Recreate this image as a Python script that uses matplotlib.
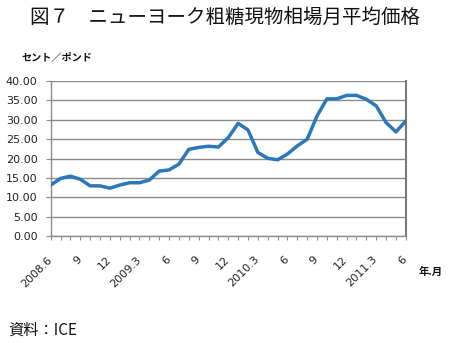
import matplotlib
matplotlib.use("Agg")
import matplotlib.pyplot as plt
import matplotlib.transforms as mtransforms

months = list(range(37))
prices = [13.2, 14.9, 15.5, 14.7, 13.0, 13.0, 12.4, 13.2, 13.8, 13.8, 14.5, 16.8,
          17.1, 18.6, 22.4, 22.9, 23.2, 23.0, 25.4, 29.1, 27.4, 21.6, 20.1, 19.7,
          21.2, 23.3, 25.0, 31.0, 35.4, 35.4, 36.3, 36.3, 35.3, 33.6, 29.3, 26.9, 29.7]
tick_labels = ["2008.6", "9", "12", "2009.3", "6", "9", "12",
               "2010.3", "6", "9", "12", "2011.3", "6"]
yticks = [0, 5, 10, 15, 20, 25, 30, 35, 40]

jp = ["Noto Sans CJK JP", "DejaVu Sans"]

fig = plt.figure(figsize=(4.51, 3.43), dpi=100)
ax = fig.add_axes([0.1124, 0.311, 0.7874, 0.4528])

ax.plot(months, prices, color="#2a78b8", linewidth=2.5, solid_joinstyle="round",
        solid_capstyle="round", zorder=3)

ax.set_xlim(0, 36)
ax.set_ylim(0, 40)
ax.set_yticks(yticks)
ax.set_yticklabels([f"{v:.2f}" for v in yticks], fontsize=8, color="#222222")
ax.yaxis.grid(True, color="#8c8c8c", linewidth=1.0)
ax.set_axisbelow(True)

ax.set_xticks(months)
labs = []
for m in months:
    labs.append(tick_labels[m // 3] if m % 3 == 0 else "")
ax.set_xticklabels(labs, rotation=45, ha="right", rotation_mode="anchor",
                   fontsize=8, color="#222222")
ax.tick_params(axis="x", length=3, width=0.8, color="#8c8c8c", pad=10)
ax.tick_params(axis="y", length=3.5, width=0.8, color="#8c8c8c", pad=6)
offset = mtransforms.ScaledTranslation(-4 / 100, 0, fig.dpi_scale_trans)
for lab in ax.get_xticklabels():
    lab.set_transform(lab.get_transform() + offset)

for side in ["left", "bottom", "right"]:
    ax.spines[side].set_color("#8c8c8c")
    ax.spines[side].set_linewidth(1.0)
ax.spines["right"].set_linewidth(1.5)
ax.spines["right"].set_color("#7a7a7a")
ax.spines["top"].set_visible(False)

fig.text(0.5, 0.948, "図７　ニューヨーク粗糖現物相場月平均価格", ha="center", va="center",
         fontsize=14, family=jp, color="#111111")
fig.text(0.047, 0.834, "セント／ポンド", ha="left", va="center", fontsize=7.3,
         family=jp, weight="bold", color="#111111")
fig.text(0.956, 0.207, "年.月", ha="center", va="center", fontsize=7.5,
         family=jp, weight="bold", color="#111111")
fig.text(0.018, 0.038, "資料：ICE", ha="left", va="center", fontsize=11,
         family=jp, color="#111111")

fig.savefig("out.png", dpi=100)
